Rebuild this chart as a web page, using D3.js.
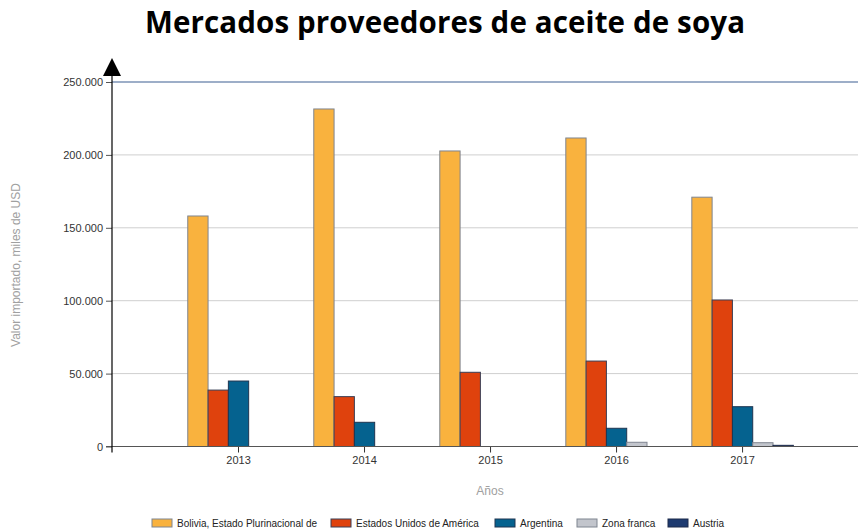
<!DOCTYPE html>
<html>
<head>
<meta charset="utf-8">
<script src="https://cdn.jsdelivr.net/npm/d3@7"></script>
<style>
    body { margin: 0; background: #fff; }
    svg { display: block; }
</style>
</head>
<body>
<script>
// chart data
var years = [2013, 2014, 2015, 2016, 2017];
var seriesNames = ["Bolivia, Estado Plurinacional de", "Estados Unidos de América", "Argentina", "Zona franca", "Austria"];
var bolivia = [158100, 231500, 202700, 211600, 171000];
var eeuu = [38700, 34200, 50900, 58600, 100500];
var argentina = [44900, 16600, 0, 12500, 27300];
var zonaFranca = [0, 0, 0, 2900, 2600];
var austria = [0, 0, 0, 0, 800];
var yTicks = [0, 50000, 100000, 150000, 200000, 250000];

var colors = ["#f9b23e", "#df420d", "#05628f", "#c2c5cc", "#1d3a70"];
var strokes = ["#7f8590", "#3a3f55", "#1e3550", "#7f8590", "#1d2a4a"];

function draw() {
    var width = 858,
        height = 531,
        left = 112,
        right = 858,
        top = 82,
        bottom = 446.5,
        barW = 20.3;

    var svg = d3.select("body").append("svg")
        .attr("width", width)
        .attr("height", height)
        .style("font-family", "'Liberation Sans', Arial, sans-serif");

    var series = [bolivia, eeuu, argentina, zonaFranca, austria];

    var x = d3.scaleLinear().domain([2012, 2017.92]).range([left, right]);
    var y = d3.scaleLinear().domain([0, 250000]).range([bottom, top]);
    var fmt = function (d) { return d3.format(",")(d).replace(/,/g, "."); };

    // title
    svg.append("text")
        .attr("x", 445)
        .attr("y", 33)
        .attr("text-anchor", "middle")
        .style("font-family", "'Open Sans', sans-serif")
        .style("font-weight", "bold")
        .style("font-size", "29.5px")
        .attr("textLength", 600)
        .text("Mercados proveedores de aceite de soya");

    // gridlines
    svg.append("g")
        .selectAll("line")
        .data(yTicks.slice(1))
        .enter().append("line")
        .attr("x1", left).attr("x2", right)
        .attr("y1", function (d) { return y(d); })
        .attr("y2", function (d) { return y(d); })
        .attr("stroke", function (d) { return d === 250000 ? "#3d5e92" : "#cfcfcf"; })
        .attr("stroke-width", function (d) { return d === 250000 ? 1.2 : 1; });

    // bars
    series.forEach(function (vals, si) {
        svg.append("g")
            .selectAll("rect")
            .data(vals)
            .enter().append("rect")
            .attr("x", function (d, i) { return x(years[i]) + (si - 2.5) * barW + 0.5; })
            .attr("y", function (d) { return y(d); })
            .attr("width", barW)
            .attr("height", function (d) { return bottom - y(d); })
            .attr("fill", colors[si])
            .attr("stroke", strokes[si])
            .attr("stroke-width", function (d) { return d > 0 ? 1 : 0; });
    });

    // y axis
    var yAxis = d3.axisLeft(y)
        .tickValues(yTicks)
        .tickSize(6)
        .tickFormat(fmt);
    var gy = svg.append("g")
        .attr("transform", "translate(" + left + ",0)")
        .call(yAxis);
    gy.select(".domain").remove();
    gy.selectAll(".tick line").attr("stroke", "#555");
    gy.selectAll(".tick text")
        .attr("x", -9)
        .style("font-size", "11px")
        .attr("fill", "#333");

    // x axis
    var xAxis = d3.axisBottom(x)
        .tickValues(years)
        .tickSize(6)
        .tickFormat(d3.format("d"));
    var gx = svg.append("g")
        .attr("transform", "translate(0," + bottom + ")")
        .call(xAxis);
    gx.select(".domain").remove();
    gx.selectAll(".tick line").attr("stroke", "#333");
    gx.selectAll(".tick text")
        .attr("y", 10)
        .style("font-size", "11px")
        .attr("fill", "#333");

    // baseline
    svg.append("line")
        .attr("x1", left - 6).attr("x2", right)
        .attr("y1", bottom).attr("y2", bottom)
        .attr("stroke", "#555").attr("stroke-width", 1.2);

    // y axis line with arrow
    svg.append("line")
        .attr("x1", left).attr("x2", left)
        .attr("y1", 70).attr("y2", bottom + 6)
        .attr("stroke", "#000").attr("stroke-width", 1.2);
    svg.append("path")
        .attr("d", "M" + left + ",58 L" + (left + 9) + ",76 L" + (left - 9) + ",76 Z")
        .attr("fill", "#000");

    // axis titles
    svg.append("text")
        .attr("transform", "translate(20," + 265 + ") rotate(-90)")
        .attr("text-anchor", "middle")
        .style("font-size", "12px")
        .attr("fill", "#a0a0a0")
        .text("Valor importado, miles de USD");

    svg.append("text")
        .attr("x", 490)
        .attr("y", 495)
        .attr("text-anchor", "middle")
        .style("font-size", "12px")
        .attr("fill", "#a0a0a0")
        .text("Años");

    // legend
    var legendX = [152, 331, 495, 577, 668];
    var legend = svg.append("g")
        .selectAll("g")
        .data(seriesNames)
        .enter().append("g")
        .attr("transform", function (d, i) { return "translate(" + legendX[i] + ",519)"; });
    legend.append("rect")
        .attr("width", 20).attr("height", 8)
        .attr("fill", function (d, i) { return colors[i]; })
        .attr("stroke", function (d, i) { return strokes[i]; });
    legend.append("text")
        .attr("x", 25)
        .attr("y", 8)
        .style("font-size", "10px")
        .attr("fill", "#222")
        .text(function (d) { return d; });
}

draw();
</script>
</body>
</html>
